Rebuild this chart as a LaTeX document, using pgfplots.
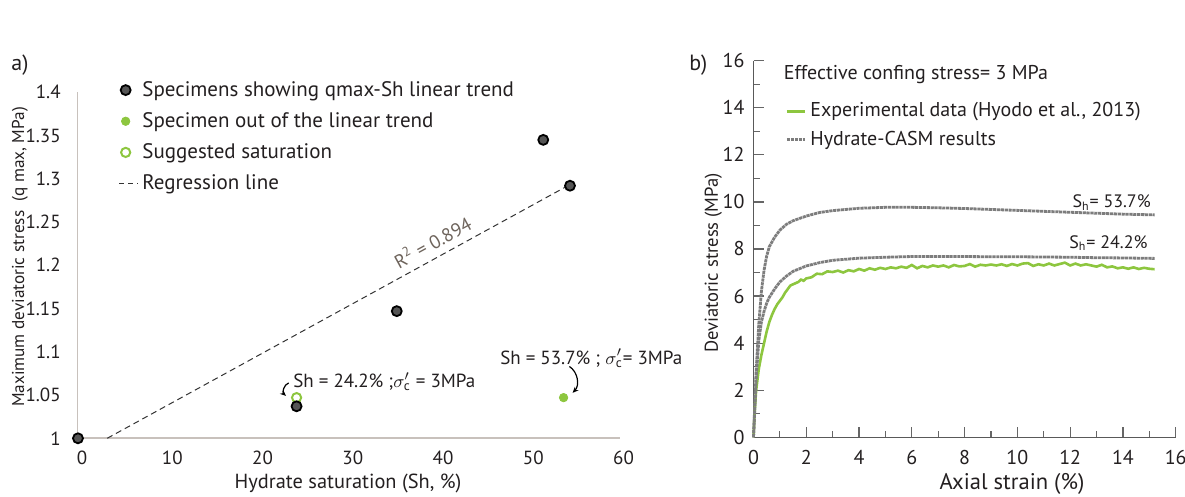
\documentclass[border=0pt]{standalone}
\usepackage{pgfplots}
\pgfplotsset{compat=1.18}
\usepackage{fontspec}
\setmainfont{PT Sans}
\usetikzlibrary{arrows.meta}
\definecolor{axgray}{RGB}{200,193,188}
\definecolor{txt}{RGB}{35,31,32}
\definecolor{ptfill}{RGB}{85,85,85}
\definecolor{grn}{RGB}{141,198,63}
\definecolor{rtwo}{RGB}{110,100,92}
\definecolor{cgray}{RGB}{125,125,125}
\begin{document}
\begin{tikzpicture}
\path[use as bounding box] (0,0) rectangle (592.5pt,248.5pt);
% ---------------- panel a ----------------
\begin{axis}[
  at={(38.85pt,29.35pt)}, anchor=south west,
  scale only axis, width=271.15pt, height=173pt,
  xmin=-0.48, xmax=59.6, ymin=1, ymax=1.4,
  axis x line*=bottom, axis y line*=left,
  axis line style={-, draw=axgray, line width=0.8pt},
  xtick={0,10,20,30,40,50},
  ytick={1,1.05,1.1,1.15,1.2,1.25,1.3,1.35,1.4},
  yticklabels={1,1.05,1.1,1.15,1.2,1.25,1.3,1.35,1.4},
  tick style={draw=none}, major tick length=0pt,
  /pgf/number format/assume math mode=true,
  tick label style={font=\fontsize{9.5}{11}\selectfont, text=txt},
  xticklabel style={yshift=-3pt},
  yticklabel style={xshift=-5pt},
  clip=false,
  legend cell align=left,
  legend style={draw=none, fill=none, at={(0.075,1.045)}, anchor=north west,
    font=\fontsize{10.5}{12}\selectfont, text=txt, row sep=2.6pt,
    inner sep=0pt},
  legend image code/.code={\draw[mark repeat=2,mark phase=2,#1] plot coordinates {(0pt,0pt) (3.2pt,0pt) (9.3pt,0pt)};},
]
\addlegendimage{only marks, mark=*, mark size=2.5pt, mark options={draw=black, fill=ptfill, line width=0.9pt}}
\addlegendentry{Specimens showing qmax-Sh linear trend}
\addlegendimage{only marks, mark=*, mark size=2.1pt, mark options={draw=grn, fill=grn}}
\addlegendentry{Specimen out of the linear trend}
\addlegendimage{only marks, mark=o, mark size=2.3pt, mark options={draw=grn, line width=1pt}}
\addlegendentry{Suggested saturation}
\addlegendimage{black!80, line width=0.5pt, dash pattern=on 2.5pt off 2pt}
\addlegendentry{Regression line}
% regression line
\addplot[forget plot, black!80, line width=0.5pt, dash pattern=on 3pt off 2pt] coordinates {(2.79,1.0) (53.65,1.291)};
% suggested saturation
\addplot[forget plot, only marks, mark=o, mark size=2.3pt, mark options={draw=grn, line width=1pt}] coordinates {(23.77,1.047)};
% specimens on trend
\addplot[forget plot, only marks, mark=*, mark size=2.5pt, mark options={draw=black, fill=ptfill, line width=0.9pt}] coordinates {
(-0.45,1.0) (23.77,1.037) (34.87,1.147) (51.1,1.345) (54.06,1.292)};
% out of trend
\addplot[forget plot, only marks, mark=*, mark size=2.1pt, mark options={draw=grn, fill=grn}] coordinates {(53.35,1.047)};
% labels
\node[anchor=north, font=\fontsize{9.5}{11}\selectfont, text=txt, yshift=-3pt, inner sep=0.333em] at (axis cs:60,1) {60};
\node[rotate=28.7, font=\fontsize{9.5}{11}\selectfont, text=rtwo] at (axis cs:38.8,1.227) {R\textsuperscript{2} = 0.894};
\node[anchor=west, inner sep=0pt, font=\fontsize{9.5}{11}\selectfont, text=txt] at (axis cs:23.36,1.0654) {Sh = 24.2\% ;$\sigma^{\prime}_{\mathrm{c}}$ = 3MPa};
\node[anchor=west, inner sep=0pt, font=\fontsize{9.5}{11}\selectfont, text=txt] at (axis cs:46.29,1.0925) {Sh = 53.7\% ; $\sigma^{\prime}_{\mathrm{c}}$= 3MPa};
\draw[-{Stealth[length=3pt,width=2.5pt]}, black, line width=0.6pt] (axis cs:22.9,1.064) to[bend right=60] (axis cs:22.6,1.049);
\draw[-{Stealth[length=3pt,width=2.5pt]}, black, line width=0.6pt] (axis cs:54.0,1.083) to[bend left=50] (axis cs:54.35,1.0525);
\end{axis}
\node[font=\fontsize{11}{13}\selectfont, text=txt] at (10pt,216pt) {a)};
\node[rotate=90, font=\fontsize{8.6}{10}\selectfont, text=txt] at (10pt,120pt) {Maximum deviatoric stress\ \ (q max, MPa)};
\node[font=\fontsize{10.2}{12}\selectfont, text=txt] at (174pt,7pt) {Hydrate saturation (Sh, \%)};
% ---------------- panel b ----------------
\begin{axis}[
  at={(376.75pt,29.85pt)}, anchor=south west,
  scale only axis, width=211.1pt, height=188.3pt,
  xmin=0, xmax=16, ymin=0, ymax=16,
  axis x line*=bottom, axis y line*=left,
  axis line style={-, draw=black!65, line width=0.6pt},
  xtick={0,2,...,16}, ytick={0,2,...,16}, minor tick num=1,
  tick align=inside, major tick length=5.3pt, minor tick length=3.3pt,
  tick style={draw=black!60, line width=0.6pt},
  /pgf/number format/assume math mode=true,
  tick label style={font=\fontsize{10}{12}\selectfont, text=txt},
  xticklabel style={yshift=-3pt},
  yticklabel style={xshift=-1pt},
  clip=false,
  legend cell align=left,
  legend style={draw=none, fill=none, at={(0.075,0.90)}, anchor=north west,
    font=\fontsize{10}{12}\selectfont, text=txt, row sep=1.5pt, inner sep=0pt},
  legend image code/.code={\draw[#1] (0pt,0pt) -- (9pt,0pt);},
]
\addplot[grn, line width=1.3pt] coordinates {
(0,0) (0.05,1.2) (0.1,2.0) (0.2,2.9) (0.3,3.5) (0.4,4.0) (0.5,4.5) (0.6,4.9) (0.7,5.2) (0.8,5.45) (0.9,5.65) (1.0,5.8) (1.1,5.95) (1.2,6.15) (1.3,6.3) (1.4,6.45) (1.5,6.5) (1.6,6.55) (1.7,6.6) (1.8,6.7) (1.9,6.65) (2.0,6.75) (2.2,6.8) (2.4,6.95) (2.6,6.93) (2.8,7.05) (3.0,7.02) (3.2,7.08) (3.4,7.0) (3.6,7.1) (3.8,7.05) (4.0,7.15) (4.2,7.08) (4.4,7.18) (4.6,7.12) (4.8,7.2) (5.0,7.15) (5.2,7.22) (5.4,7.18) (5.6,7.25) (5.8,7.2) (6.0,7.32) (6.2,7.18) (6.4,7.28) (6.6,7.22) (6.8,7.3) (7.0,7.25) (7.2,7.3) (7.4,7.22) (7.6,7.32) (7.8,7.26) (8.0,7.28) (8.2,7.36) (8.4,7.25) (8.6,7.33) (8.8,7.3) (9.0,7.34) (9.2,7.3) (9.4,7.35) (9.6,7.28) (9.8,7.36) (10.0,7.3) (10.2,7.38) (10.4,7.4) (10.6,7.28) (10.8,7.35) (11.0,7.3) (11.2,7.38) (11.4,7.3) (11.6,7.36) (11.8,7.42) (12.0,7.3) (12.2,7.38) (12.4,7.3) (12.6,7.35) (12.8,7.3) (13.0,7.25) (13.2,7.33) (13.4,7.22) (13.6,7.26) (13.8,7.18) (14.0,7.22) (14.2,7.16) (14.4,7.22) (14.6,7.15) (14.8,7.2) (15.0,7.16) (15.2,7.14)};
\addlegendentry{Experimental data (Hyodo et al., 2013)}
\addplot[cgray, line width=1.4pt, dash pattern=on 1.6pt off 0.35pt] coordinates {
(0,0) (0.1,2.5) (0.2,4.1) (0.3,4.9) (0.4,5.35) (0.5,5.7) (0.6,5.95) (0.8,6.3) (1.0,6.6) (1.25,6.85) (1.5,7.05) (2.0,7.28) (2.5,7.42) (3.0,7.52) (4.0,7.61) (5.0,7.65) (6.0,7.68) (7.0,7.68) (8.0,7.68) (9.0,7.67) (10.0,7.67) (11.0,7.66) (12.0,7.65) (13.0,7.63) (14.0,7.62) (15.2,7.6)};
\addlegendentry{Hydrate-CASM results}
\addplot[forget plot, cgray, line width=1.4pt, dash pattern=on 1.6pt off 0.35pt] coordinates {
(0,0) (0.1,2.8) (0.2,4.8) (0.3,6.2) (0.4,7.1) (0.5,7.7) (0.6,8.1) (0.8,8.5) (1.0,8.8) (1.25,9.05) (1.5,9.2) (2.0,9.4) (2.5,9.55) (3.0,9.63) (4.0,9.73) (5.0,9.77) (6.0,9.77) (7.0,9.75) (8.0,9.72) (9.0,9.68) (10.0,9.64) (11.0,9.6) (12.0,9.56) (13.0,9.52) (14.0,9.48) (15.2,9.45)};
\end{axis}
\node[font=\fontsize{11}{13}\selectfont, text=txt] at (349.2pt,216pt) {b)};
\node[anchor=west, inner sep=0pt, font=\fontsize{10}{12}\selectfont, text=txt] at (391.7pt,211pt) {Effective confing stress= 3 MPa};
\node[font=\fontsize{9}{11}\selectfont, text=txt] at (555.8pt,147.2pt) {S\textsubscript{h}= 53.7\%};
\node[font=\fontsize{9}{11}\selectfont, text=txt] at (554.2pt,126.9pt) {S\textsubscript{h}= 24.2\%};
\node[rotate=90, font=\fontsize{9.3}{11}\selectfont, text=txt] at (356.7pt,117pt) {Deviatoric stress (MPa)};
\node[font=\fontsize{11.3}{13}\selectfont, text=txt] at (506pt,6.5pt) {Axial strain (\%)};
\end{tikzpicture}
\end{document}
